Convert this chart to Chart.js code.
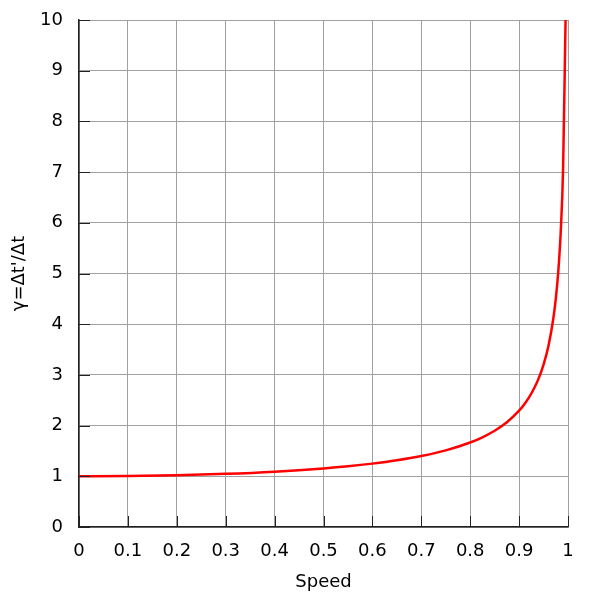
<!DOCTYPE html>
<html>
<head>
<meta charset="utf-8">
<script src="https://cdn.jsdelivr.net/npm/chart.js@4"></script>
<style>
  html, body { margin: 0; padding: 0; background: #fff; }
</style>
</head>
<body>
<canvas id="chart" width="600" height="600"></canvas>
<script>
// speed (fraction of c) and gamma values
const speeds = [0, 0.1, 0.2, 0.3, 0.4, 0.5, 0.55, 0.6, 0.65, 0.7, 0.75, 0.8, 0.825, 0.85, 0.875, 0.9, 0.91, 0.92, 0.93, 0.94, 0.95, 0.96, 0.97, 0.975, 0.98, 0.985, 0.99, 0.995];
const gammas = [1, 1.005, 1.021, 1.048, 1.091, 1.155, 1.197, 1.25, 1.316, 1.4, 1.512, 1.667, 1.77, 1.898, 2.066, 2.294, 2.412, 2.552, 2.721, 2.931, 3.203, 3.571, 4.113, 4.5, 5.025, 5.795, 7.089, 10];
const xTicks = [0, 0.1, 0.2, 0.3, 0.4, 0.5, 0.6, 0.7, 0.8, 0.9, 1];
const yTicks = [0, 1, 2, 3, 4, 5, 6, 7, 8, 9, 10];

const points = speeds.map((v, i) => ({ x: v, y: gammas[i] }));

// short tick marks drawn inside the plot, on the left and bottom axes
const innerTicks = {
  id: 'innerTicks',
  afterDraw(chart) {
    const ctx = chart.ctx;
    const a = chart.chartArea;
    const xs = chart.scales.x, ys = chart.scales.y;
    ctx.save();
    ctx.strokeStyle = '#222';
    ctx.lineWidth = 1;
    ctx.beginPath();
    yTicks.forEach(t => {
      const py = Math.round(ys.getPixelForValue(t)) + 0.5;
      ctx.moveTo(a.left, py);
      ctx.lineTo(a.left + 11, py);
    });
    xTicks.forEach(t => {
      const px = Math.round(xs.getPixelForValue(t)) + 0.5;
      ctx.moveTo(px, a.bottom);
      ctx.lineTo(px, a.bottom - 11);
    });
    ctx.stroke();
    ctx.restore();
  }
};

new Chart(document.getElementById('chart'), {
  type: 'scatter',
  data: {
    datasets: [{
      data: points,
      showLine: true,
      borderColor: '#ff0000',
      backgroundColor: '#ff0000',
      borderWidth: 2.5,
      pointRadius: 0,
      cubicInterpolationMode: 'monotone',
      clip: false
    }]
  },
  options: {
    responsive: false,
    animation: false,
    devicePixelRatio: 1,
    layout: { padding: { left: 0, right: 32, top: 20, bottom: 0 } },
    plugins: { legend: { display: false }, tooltip: { enabled: false } },
    scales: {
      x: {
        type: 'linear',
        min: 0, max: 1,
        afterBuildTicks: s => { s.ticks = xTicks.map(v => ({ value: v })); },
        afterFit: s => { s.height = 73; s.paddingLeft = 0; s.paddingRight = 0; },
        grid: { color: '#a0a0a0', lineWidth: 1, drawTicks: false },
        border: { color: '#222', width: 1.5 },
        ticks: {
          autoSkip: false,
          maxRotation: 0,
          padding: 14,
          color: '#000',
          font: { family: 'DejaVu Sans', size: 18 },
          callback: v => String(v)
        },
        title: {
          display: true, text: 'Speed', color: '#000',
          font: { family: 'DejaVu Sans', size: 18 },
          padding: { top: 4, bottom: 7 }
        }
      },
      y: {
        type: 'linear',
        min: 0, max: 10,
        afterBuildTicks: s => { s.ticks = yTicks.map(v => ({ value: v })); },
        afterFit: s => { s.width = 79; s.paddingTop = 0; s.paddingBottom = 0; },
        grid: { color: '#a0a0a0', lineWidth: 1, drawTicks: false },
        border: { color: '#222', width: 1.5 },
        ticks: {
          autoSkip: false,
          padding: 16,
          color: '#000',
          font: { family: 'DejaVu Sans', size: 18 },
          callback: v => String(v)
        },
        title: {
          display: true, text: "γ=Δt'/Δt", color: '#000',
          font: { family: 'DejaVu Sans', size: 18 },
          padding: { top: 9, bottom: 4 }
        }
      }
    }
  },
  plugins: [innerTicks]
});
</script>
</body>
</html>
